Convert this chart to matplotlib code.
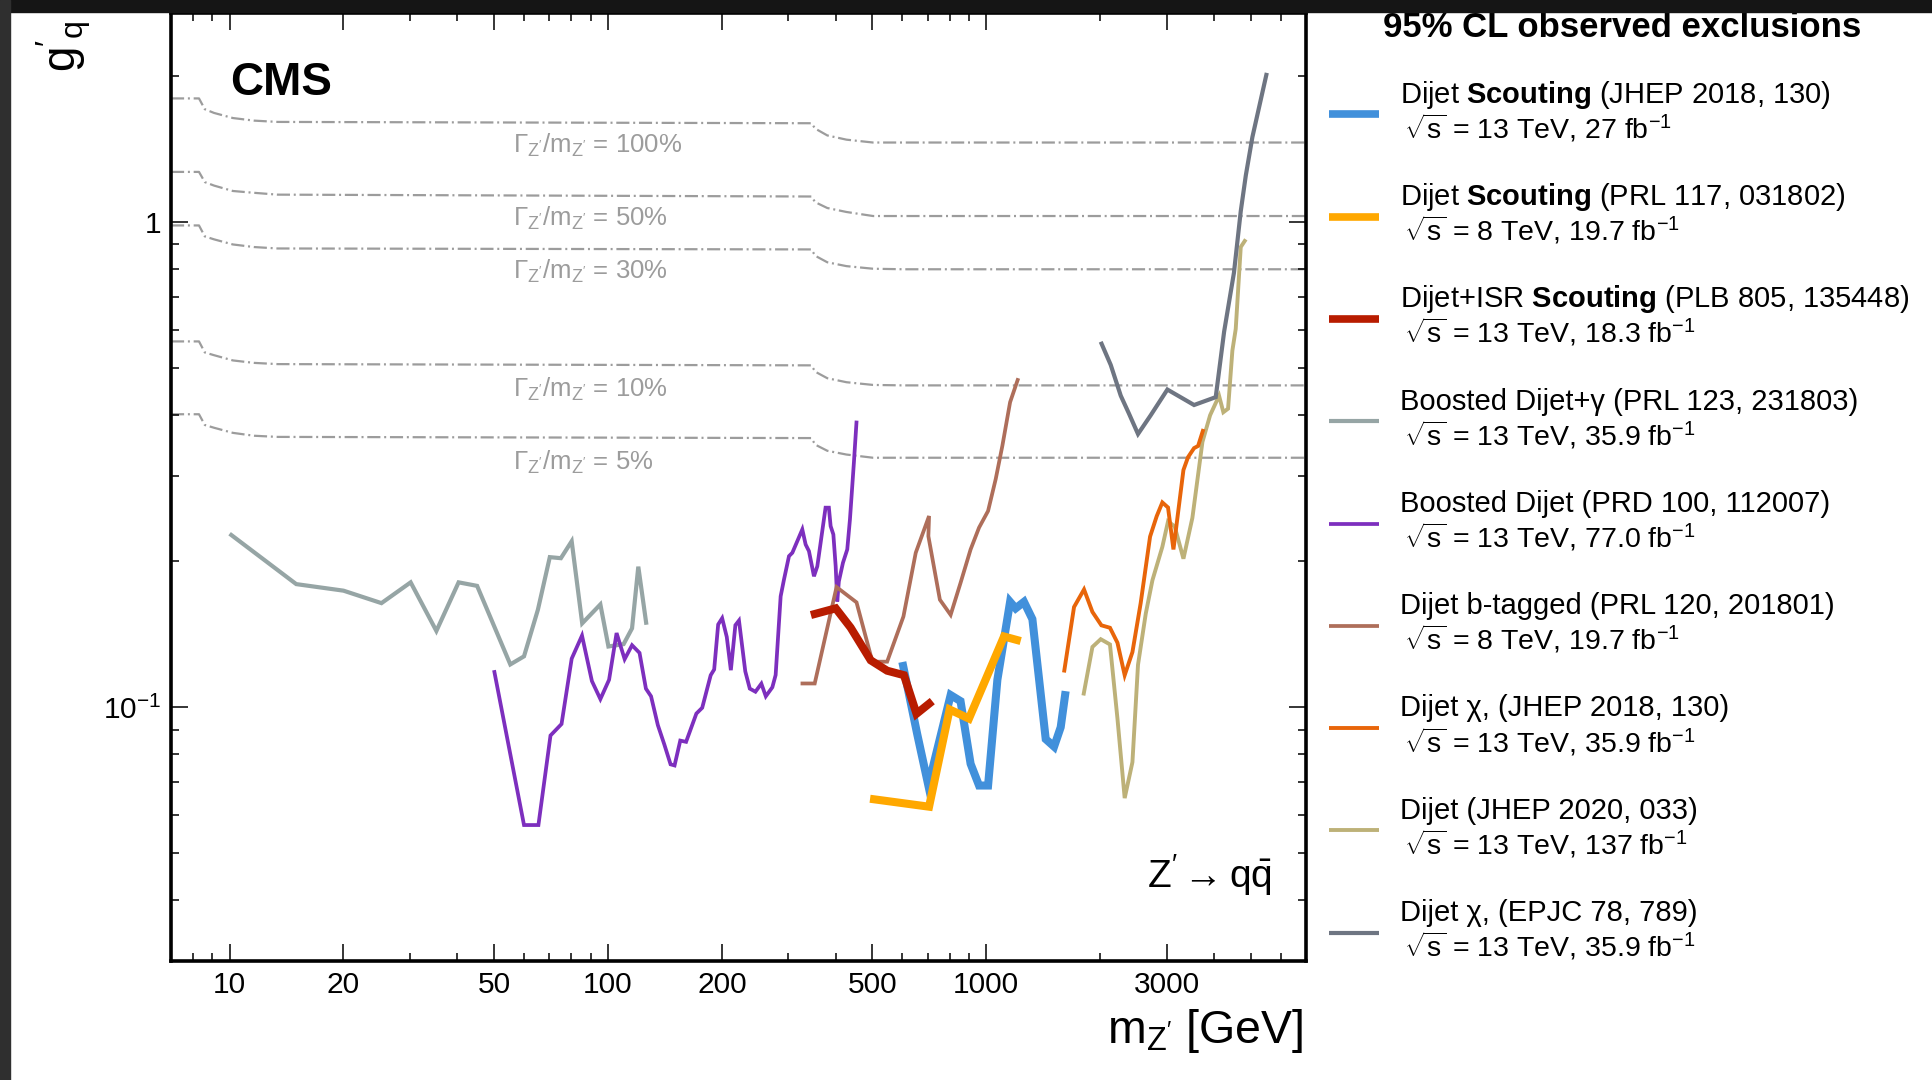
import matplotlib
matplotlib.use("Agg")
import matplotlib.pyplot as plt
from matplotlib.lines import Line2D
from matplotlib.patches import Rectangle
from matplotlib.ticker import FixedLocator, NullFormatter

plt.rcParams['font.family'] = ['Liberation Sans', 'DejaVu Sans']
plt.rcParams['mathtext.fontset'] = 'custom'
plt.rcParams['mathtext.rm'] = 'Liberation Sans'
plt.rcParams['mathtext.it'] = 'Liberation Sans:italic'
plt.rcParams['mathtext.bf'] = 'Liberation Sans:bold'
plt.rcParams['mathtext.default'] = 'regular'

# --- width reference lines (Gamma/m) ---
width_m = [7, 8.3, 8.6, 9.1, 10.2, 11.6, 13.4, 345, 353, 380, 427, 502, 605, 7000]
width_100 = [1.80, 1.80, 1.71, 1.68, 1.64, 1.62, 1.61, 1.60, 1.56, 1.51, 1.48, 1.46, 1.46, 1.46]
width_50 = [1.27, 1.27, 1.21, 1.19, 1.16, 1.15, 1.14, 1.13, 1.10, 1.07, 1.05, 1.03, 1.03, 1.03]
width_30 = [0.985, 0.985, 0.935, 0.922, 0.900, 0.889, 0.883, 0.879, 0.853, 0.827, 0.812, 0.802, 0.800, 0.800]
width_10 = [0.568, 0.568, 0.539, 0.532, 0.519, 0.513, 0.510, 0.507, 0.492, 0.477, 0.468, 0.462, 0.461, 0.461]
width_5 = [0.402, 0.402, 0.382, 0.377, 0.368, 0.363, 0.361, 0.359, 0.348, 0.338, 0.332, 0.327, 0.327, 0.327]
width_labels = ["100%", "50%", "30%", "10%", "5%"]
width_label_g = [1.39, 0.982, 0.763, 0.437, 0.309]

# --- observed exclusions ---
scout13_m = [600, 657, 703, 805, 855, 909, 957, 1011, 1070, 1156, 1196, 1258, 1324, 1436, 1511, 1573, 1621]
scout13_g = [0.124, 0.088, 0.069, 0.106, 0.103, 0.0765, 0.069, 0.069, 0.114, 0.165, 0.160, 0.165, 0.152, 0.086, 0.083, 0.091, 0.108]

scout8_m = [493, 706, 800, 900, 1114, 1233]
scout8_g = [0.0648, 0.0624, 0.099, 0.0948, 0.140, 0.137]

isr_m = [344, 400, 438, 495, 547, 606, 654, 720]
isr_g = [0.155, 0.160, 0.146, 0.125, 0.119, 0.1165, 0.097, 0.103]

dijetgamma_m = [10, 15, 20, 25.2, 30.1, 35.2, 40.3, 45.1, 55.2, 60, 65.3, 70.2, 75.1, 80.2,
                85.5, 95.5, 100.3, 110, 115.8, 120.3, 126.4]
dijetgamma_g = [0.228, 0.1795, 0.174, 0.164, 0.181, 0.1437, 0.181, 0.178, 0.1226, 0.1274, 0.159, 0.204,
                0.203, 0.220, 0.149, 0.163, 0.1335, 0.135, 0.1455, 0.195, 0.148]

boosted_m = [50, 60, 65.5, 70.5, 75.4, 80.2, 85.4, 90.7, 95.5, 100.7,
             105.4, 110.7, 115.8, 121.2, 126, 130, 135.5, 140.9, 146.4, 150,
             155.3, 160.9, 171.3, 177.5, 186.9, 190.9, 195.6, 200.4, 206.1, 211.3,
             217.2, 222, 230.7, 237.1, 245.4, 254.4, 261.4, 272, 277.5, 286.1,
             291.9, 301, 307.2, 326.4, 333.1, 339.9, 350.4, 357.6, 364.9, 376,
             383.7, 387.8, 394.3, 399.9, 403.8, 407.7, 418, 429.1, 436.2, 442.4,
             446.8, 454.2]
boosted_g = [0.1193, 0.0572, 0.0572, 0.0875, 0.0924, 0.126, 0.1406, 0.1133, 0.104, 0.114,
             0.1423, 0.1257, 0.1343, 0.1295, 0.1093, 0.1054, 0.0919, 0.0839, 0.0763, 0.0759,
             0.0854, 0.0849, 0.0971, 0.0998, 0.1165, 0.1197, 0.1482, 0.1527, 0.1397, 0.1193,
             0.1477, 0.151, 0.1186, 0.1093, 0.1077, 0.1119, 0.1054, 0.110, 0.1166, 0.1694,
             0.1833, 0.205, 0.2083, 0.2327, 0.2166, 0.2099, 0.1863, 0.1953, 0.2184, 0.258,
             0.258, 0.2364, 0.2272, 0.1953, 0.1653, 0.1818, 0.1986, 0.2116, 0.2441, 0.2861,
             0.3197, 0.39]

btag_m = [323, 352, 402, 454, 500, 547, 604, 651, 706, 703, 754, 805, 855, 909, 957, 1011, 1059, 1103, 1156, 1215]
btag_g = [0.112, 0.112, 0.177, 0.1646, 0.1242, 0.1242, 0.1539, 0.2083, 0.248, 0.2254, 0.1667, 0.1551,
          0.1805, 0.2116, 0.2347, 0.254, 0.2954, 0.3462, 0.4256, 0.477]

chi18_m = [1605, 1706, 1813, 1908, 2015, 2123, 2222, 2322, 2434, 2559, 2710, 2821, 2920, 3023, 3124,
           3320, 3414, 3542, 3630, 3750]
chi18_g = [0.118, 0.161, 0.175, 0.1573, 0.1476, 0.1459, 0.1359, 0.1165, 0.130, 0.1639, 0.2249, 0.2477,
           0.2645, 0.2582, 0.2116, 0.3085, 0.3279, 0.3423, 0.3458, 0.3748]

dijet20_m = [1806, 1908, 2007, 2123, 2222, 2322, 2434, 2518, 2640, 2749, 2920, 3023, 3148, 3320, 3506,
             3727, 3905, 4124, 4233, 4356, 4472, 4564, 4706, 4853]
dijet20_g = [0.1058, 0.1332, 0.1382, 0.1348, 0.0948, 0.065, 0.0771, 0.1224, 0.1561, 0.1828, 0.2142,
             0.2418, 0.236, 0.2025, 0.2459, 0.3525, 0.4001, 0.4388, 0.4059, 0.4128, 0.5438, 0.6025,
             0.889, 0.922]

chi16_m = [2007, 2133, 2267, 2384, 2518, 2720, 3011, 3542, 4041, 4253, 4515, 4706, 4853, 5052, 5514]
chi16_g = [0.567, 0.508, 0.439, 0.403, 0.366, 0.400, 0.452, 0.420, 0.436, 0.595, 0.787, 1.054, 1.249,
           1.499, 2.032]

legend_titles = [
    r"Dijet $\mathbf{Scouting}$ (JHEP 2018, 130)",
    r"Dijet $\mathbf{Scouting}$ (PRL 117, 031802)",
    r"Dijet+ISR $\mathbf{Scouting}$ (PLB 805, 135448)",
    "Boosted Dijet+γ (PRL 123, 231803)",
    "Boosted Dijet (PRD 100, 112007)",
    "Dijet b-tagged (PRL 120, 201801)",
    "Dijet χ, (JHEP 2018, 130)",
    "Dijet (JHEP 2020, 033)",
    "Dijet χ, (EPJC 78, 789)",
]
legend_energy = ["13", "8", "13", "13", "13", "8", "13", "13", "13"]
legend_lumi = ["27", "19.7", "18.3", "35.9", "77.0", "19.7", "35.9", "137", "35.9"]

colors = ["#4190db", "#ffa800", "#b81c00", "#96a5a5", "#7d2fbe", "#ae6e5a", "#e8650a", "#bdb178", "#6e7582"]
widths = [5.8, 5.8, 5.8, 3.0, 2.7, 2.7, 2.8, 2.8, 3.0]

series = [(scout13_m, scout13_g), (scout8_m, scout8_g), (isr_m, isr_g),
          (dijetgamma_m, dijetgamma_g), (boosted_m, boosted_g), (btag_m, btag_g),
          (chi18_m, chi18_g), (dijet20_m, dijet20_g), (chi16_m, chi16_g)]
zorders = [8, 10, 9, 2, 3, 4, 6, 5, 7]

fig = plt.figure(figsize=(19.32, 10.8), dpi=100)
ax = fig.add_axes([171 / 1932, 1 - 961 / 1080, (1306 - 171) / 1932, (961 - 13) / 1080])
ax.set_xscale("log")
ax.set_yscale("log")
ax.set_xlim(7, 7000)
ax.set_ylim(0.03, 2.7)

dashdot = (0, (5.9, 1.7, 0.9, 1.7))
for wg in [width_100, width_50, width_30, width_10, width_5]:
    ax.plot(width_m, wg, color="#9c9c9c", lw=1.6, linestyle=dashdot, zorder=1)
for lab, yg in zip(width_labels, width_label_g):
    ax.text(56.1, yg, r"$\Gamma_{Z'}/m_{Z'}$ = " + lab, color="#9c9c9c", fontsize=18.5,
            ha="left", va="baseline", zorder=1)

for (xs, ys), c, lw, z in zip(series, colors, widths, zorders):
    ax.plot(xs, ys, color=c, lw=lw, zorder=z, solid_joinstyle="miter", solid_capstyle="butt")

# axes style (ROOT-like)
for sp in ax.spines.values():
    sp.set_linewidth(2.6)
ax.xaxis.set_major_locator(FixedLocator([10, 20, 50, 100, 200, 500, 1000, 3000]))
ax.xaxis.set_minor_locator(FixedLocator([8, 9, 30, 40, 60, 70, 80, 90, 300, 400, 600, 700, 800, 900,
                                         2000, 4000, 5000, 6000]))
ax.set_xticklabels(["10", "20", "50", "100", "200", "500", "1000", "3000"])
ax.xaxis.set_minor_formatter(NullFormatter())
ax.yaxis.set_major_locator(FixedLocator([0.1, 1]))
ax.set_yticklabels([r"$10^{-1}$", "1"])
ax.yaxis.set_minor_locator(FixedLocator([0.03, 0.04, 0.05, 0.06, 0.07, 0.08, 0.09,
                                         0.2, 0.3, 0.4, 0.5, 0.6, 0.7, 0.8, 0.9, 2]))
ax.yaxis.set_minor_formatter(NullFormatter())
ax.tick_params(which="both", direction="in", top=True, right=True, width=1.1, labelsize=21.5)
ax.tick_params(which="major", length=12.2, pad=7)
ax.tick_params(which="minor", length=5.8)

ax.text(230 / 1932, 1 - 95 / 1080, "CMS", transform=fig.transFigure, fontsize=33,
        fontweight="bold", ha="left", va="baseline")
ax.text(0.970, 0.077, r"$Z' \rightarrow q\bar{q}$", transform=ax.transAxes, fontsize=28,
        ha="right", va="baseline")

fig.text(1303 / 1932, 1 - 1043 / 1080, r"$m_{Z'}$ [GeV]", fontsize=33.5, ha="right", va="baseline")
fig.text(63.5 / 1932, 1 - 72 / 1080, r"$g'{}_{q}$", fontsize=33, rotation=90, ha="center", va="bottom")

# legend drawn by hand
fig.text(1383 / 1932, 1 - 36.7 / 1080, "95% CL observed exclusions", fontsize=25,
         fontweight="bold", ha="left", va="baseline")
for i, (title, en, lumi, c, lw) in enumerate(zip(legend_titles, legend_energy, legend_lumi, colors, widths)):
    yc = 114.3 + i * 102.3
    fig.add_artist(Line2D([1329 / 1932, 1379 / 1932], [1 - yc / 1080] * 2, color=c,
                          lw=min(lw, 5.5), transform=fig.transFigure, solid_capstyle="butt"))
    fig.text(1400 / 1932, 1 - (yc - 11.6) / 1080, title, fontsize=21, ha="left", va="baseline")
    fig.text(1404 / 1932, 1 - (yc + 24) / 1080,
             r"$\sqrt{s}$ = " + en + " TeV, " + lumi + r" fb$^{-1}$",
             fontsize=20.5, ha="left", va="baseline")

# dark frame of the screenshot
fig.add_artist(Rectangle((0, 1 - 12 / 1080), 1, 12 / 1080, transform=fig.transFigure,
                         color="#151515", zorder=50))
fig.add_artist(Rectangle((0, 0), 10 / 1932, 1, transform=fig.transFigure, color="#2f2f2f", zorder=50))

fig.savefig("out.png", dpi=100)
